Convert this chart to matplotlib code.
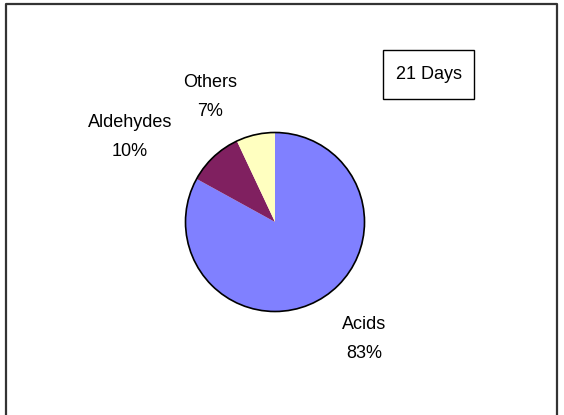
import matplotlib.pyplot as plt
from matplotlib.patches import Circle, Rectangle

labels = ["Acids", "Aldehydes", "Others"]
shares = [83, 10, 7]
colors = ["#8080FF", "#802060", "#FFFFC0"]
title_box = "21 Days"

W, H = 564, 415
fig = plt.figure(figsize=(W / 100, H / 100), dpi=100)
ax = fig.add_axes([0, 0, 1, 1])

cx, cy, r = 275, H - 222, 89.5
ax.pie(shares, colors=colors, startangle=90, counterclock=False,
       center=(cx, cy), radius=r, frame=False,
       wedgeprops=dict(linewidth=0))
ax.add_patch(Circle((cx, cy), r, fill=False, edgecolor="black", linewidth=1.2))

# label anchor points (pixel coords from top-left)
label_pos = [(364, 339), (130, 137), (210, 97)]
for name, val, (x, y) in zip(labels, shares, label_pos):
    ax.text(x, H - y, f"{name}\n{val}%", ha="center", va="center",
            fontsize=13, family="Liberation Sans", linespacing=1.85)

# box with the period label
ax.add_patch(Rectangle((383, H - 99), 91, 49, fill=False,
                       edgecolor="black", linewidth=1))
ax.text(428.5, H - 74.5, title_box, ha="center", va="center",
        fontsize=13, family="Liberation Sans")

ax.set_xlim(0, W)
ax.set_ylim(0, H)
ax.set_aspect("equal")
ax.axis("off")

# outer frame, open at the bottom
ax.plot([5.5, 5.5, 556.5, 556.5], [0, H - 4.5, H - 4.5, 0],
        color="#333333", linewidth=1.6)

fig.savefig("out.png", dpi=100)
